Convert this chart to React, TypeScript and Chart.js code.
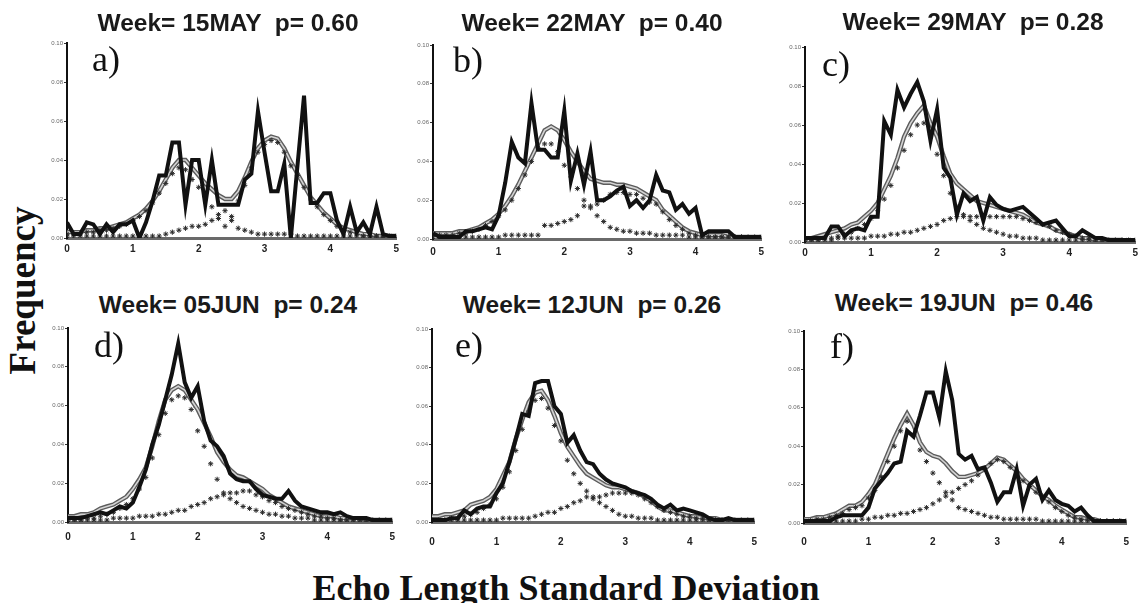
import React, { useEffect, useRef } from "react";
import { Chart, registerables } from "chart.js";
Chart.register(...registerables);

// x positions of the bins (Echo Length Standard Deviation)
const xValues = [
  0, 0.1, 0.2, 0.3, 0.4, 0.5, 0.6, 0.7, 0.8, 0.9,
  1, 1.1, 1.2, 1.3, 1.4, 1.5, 1.6, 1.7, 1.8, 1.9,
  2, 2.1, 2.2, 2.3, 2.4, 2.5, 2.6, 2.7, 2.8, 2.9,
  3, 3.1, 3.2, 3.3, 3.4, 3.5, 3.6, 3.7, 3.8, 3.9,
  4, 4.1, 4.2, 4.3, 4.4, 4.5, 4.6, 4.7, 4.8, 4.9,
  5,
];

const xTickLabels = ["0", "1", "2", "3", "4", "5"];
const yTickLabels = ["0.00", "0.02", "0.04", "0.06", "0.08", "0.10"];

const panelTitles = [
  "Week= 15MAY  p= 0.60",
  "Week= 22MAY  p= 0.40",
  "Week= 29MAY  p= 0.28",
  "Week= 05JUN  p= 0.24",
  "Week= 12JUN  p= 0.26",
  "Week= 19JUN  p= 0.46",
];
const panelLetters = ["a)", "b)", "c)", "d)", "e)", "f)"];

// All frequencies below are in thousandths (0.001)

// ---- 15MAY ----
const obs15May = [
  8, 2, 2, 8, 7, 2, 7, 3, 7, 7,
  9, 0, 8, 19, 32, 32, 49, 49, 17, 40,
  40, 17, 40, 17, 17, 17, 17, 30, 33, 65,
  44, 24, 24, 38, 0, 37, 73, 18, 18, 23,
  23, 9, 2, 16, 3, 8, 2, 16, 2, 1,
  1,
];
const fit15May = [
  3, 3, 3, 4, 4, 5, 5, 6, 7, 8,
  10, 12, 15, 19, 24, 30, 36, 40, 40, 36,
  32, 28, 25, 22, 20, 20, 24, 31, 39, 46,
  50, 52, 51, 46, 39, 33, 27, 21, 17, 13,
  10, 7, 5, 4, 3, 2, 2, 1, 1, 1,
  1,
];
const dotsA15May = [
  1, 1, 1, 1, 1, 1, 1, 1, 1, 1,
  1, 1, 1, 1, 1, 2, 3, 4, 5, 6,
  6, 7, 9, 12, 14, 9, 5, 4, 3, 2,
  2, 2, 2, 2, 2, 1, 1, 1, 1, 1,
  1, 1, 1, 1, 1, 1, 1, 1, 1, 1,
  1,
];
const dotsB15May = [
  2, 2, 2, 3, 3, 4, 4, 5, 6, 7,
  9, 11, 14, 18, 23, 28, 33, 36, 35, 30,
  26, 21, 16, 10, 6, 11, 19, 27, 36, 44,
  48, 50, 49, 44, 37, 32, 26, 20, 16, 12,
  9, 6, 4, 3, 2, 1, 1, 1, 0, 0,
  0,
];

// ---- 22MAY ----
const obs22May = [
  3, 1, 1, 1, 1, 4, 4, 5, 6, 5,
  12, 29, 50, 42, 39, 70, 46, 46, 42, 42,
  66, 30, 44, 28, 45, 20, 20, 22, 25, 27,
  17, 20, 16, 20, 33, 25, 24, 15, 18, 13,
  16, 2, 4, 4, 4, 4, 1, 1, 1, 1,
  1,
];
const fit22May = [
  3, 3, 3, 3, 4, 4, 5, 6, 8, 10,
  13, 17, 22, 28, 35, 42, 49, 56, 58, 56,
  51, 45, 40, 35, 31, 30, 29, 29, 28, 28,
  27, 26, 24, 22, 20, 15, 12, 9, 6, 4,
  3, 2, 2, 2, 2, 1, 1, 1, 1, 1,
  1,
];
const dotsA22May = [
  1, 1, 1, 1, 1, 1, 1, 1, 1, 1,
  1, 2, 2, 2, 2, 2, 2, 7, 7, 8,
  9, 10, 12, 17, 16, 12, 9, 6, 5, 4,
  4, 3, 3, 3, 2, 2, 2, 2, 2, 1,
  1, 1, 1, 1, 1, 1, 1, 1, 1, 1,
  1,
];
const dotsB22May = [
  2, 2, 2, 2, 3, 3, 4, 5, 7, 9,
  12, 15, 20, 26, 33, 40, 47, 49, 49, 45,
  38, 32, 26, 20, 17, 18, 20, 23, 24, 24,
  23, 23, 21, 19, 18, 14, 10, 7, 5, 3,
  2, 1, 1, 1, 1, 1, 1, 1, 0, 0,
  0,
];

// ---- 29MAY ----
const obs29May = [
  2, 2, 2, 2, 8, 8, 3, 6, 7, 6,
  13, 13, 62, 55, 78, 69, 76, 82, 72, 52,
  68, 38, 33, 14, 25, 21, 23, 11, 23, 19,
  17, 16, 17, 18, 15, 12, 9, 10, 11, 7,
  3, 3, 6, 4, 2, 2, 1, 1, 1, 1,
  1,
];
const fit29May = [
  2, 2, 3, 4, 5, 6, 7, 9, 10, 13,
  16, 20, 27, 34, 43, 54, 61, 66, 70, 61,
  54, 44, 35, 30, 27, 24, 21, 20, 19, 18,
  17, 16, 15, 14, 12, 10, 9, 8, 6, 5,
  4, 3, 2, 2, 1, 1, 1, 1, 1, 0,
  0,
];
const dotsA29May = [
  1, 1, 1, 2, 2, 3, 4, 5, 7, 9,
  12, 16, 22, 29, 38, 47, 55, 60, 61, 55,
  45, 34, 25, 18, 14, 11, 9, 7, 6, 5,
  4, 3, 3, 2, 2, 2, 1, 1, 1, 1,
  1, 1, 1, 1, 0, 0, 0, 0, 0, 0,
  0,
];
const dotsB29May = [
  1, 1, 1, 1, 1, 2, 2, 2, 2, 2,
  3, 3, 3, 4, 4, 5, 5, 6, 7, 8,
  9, 11, 12, 13, 13, 13, 13, 13, 13, 13,
  13, 13, 13, 12, 11, 10, 9, 8, 6, 5,
  4, 3, 2, 2, 1, 1, 1, 1, 1, 1,
  1,
];

// ---- 05JUN ----
const obs05Jun = [
  2, 2, 2, 3, 4, 5, 4, 6, 8, 7,
  10, 18, 27, 40, 50, 63, 76, 92, 72, 64,
  70, 52, 42, 39, 34, 25, 22, 21, 21, 17,
  14, 13, 12, 12, 16, 11, 8, 7, 6, 5,
  5, 4, 5, 3, 2, 2, 2, 1, 1, 1,
  1,
];
const fit05Jun = [
  3, 3, 4, 4, 5, 7, 8, 9, 11, 13,
  17, 22, 28, 39, 52, 63, 68, 70, 68, 63,
  58, 51, 44, 36, 31, 27, 24, 23, 21, 19,
  17, 14, 12, 10, 8, 7, 6, 5, 4, 3,
  3, 3, 2, 2, 2, 2, 1, 1, 1, 1,
  1,
];
const dotsA05Jun = [
  1, 1, 1, 2, 2, 3, 4, 5, 7, 9,
  12, 17, 23, 33, 45, 56, 63, 65, 64, 58,
  47, 39, 30, 22, 15, 12, 10, 8, 7, 6,
  5, 4, 4, 3, 3, 2, 2, 2, 1, 1,
  1, 1, 1, 1, 1, 1, 0, 0, 0, 0,
  0,
];
const dotsB05Jun = [
  1, 1, 1, 1, 1, 1, 1, 2, 2, 2,
  2, 3, 3, 3, 4, 4, 5, 6, 6, 8,
  9, 10, 12, 13, 14, 15, 15, 16, 16, 14,
  13, 11, 10, 8, 7, 6, 5, 4, 3, 3,
  2, 2, 1, 1, 1, 1, 1, 1, 1, 1,
  1,
];

// ---- 12JUN ----
const obs12Jun = [
  1, 1, 1, 2, 2, 6, 4, 7, 8, 8,
  15, 20, 31, 43, 56, 55, 72, 73, 73, 60,
  56, 41, 45, 37, 31, 30, 25, 22, 20, 19,
  18, 16, 15, 14, 12, 9, 7, 9, 6, 7,
  6, 5, 4, 2, 1, 1, 2, 1, 1, 1,
  1,
];
const fit12Jun = [
  3, 3, 4, 4, 5, 6, 9, 10, 11, 13,
  17, 24, 31, 43, 53, 62, 67, 68, 63, 55,
  46, 39, 34, 29, 25, 23, 21, 19, 18, 18,
  17, 16, 15, 13, 11, 8, 6, 6, 5, 4,
  3, 3, 2, 2, 2, 1, 1, 1, 1, 1,
  1,
];
const dotsA12Jun = [
  1, 1, 1, 2, 2, 3, 4, 5, 7, 9,
  12, 18, 26, 37, 48, 57, 63, 64, 59, 50,
  42, 32, 25, 20, 16, 12, 10, 8, 6, 4,
  3, 3, 2, 2, 2, 1, 1, 1, 1, 1,
  1, 1, 1, 1, 1, 1, 1, 0, 0, 0,
  0,
];
const dotsB12Jun = [
  0, 0, 1, 1, 1, 1, 1, 1, 1, 1,
  1, 2, 2, 2, 2, 2, 3, 4, 5, 5,
  7, 8, 10, 11, 13, 13, 13, 14, 15, 15,
  15, 15, 14, 12, 10, 8, 6, 5, 4, 3,
  3, 2, 2, 1, 1, 1, 1, 1, 1, 1,
  1,
];

// ---- 19JUN ----
const obs19Jun = [
  1, 1, 1, 1, 1, 3, 4, 4, 4, 4,
  8, 18, 22, 26, 31, 32, 48, 45, 56, 68,
  68, 55, 79, 64, 36, 33, 35, 28, 29, 21,
  11, 16, 16, 28, 9, 20, 23, 12, 17, 12,
  10, 9, 6, 8, 4, 1, 1, 1, 1, 1,
  1,
];
const fit19Jun = [
  2, 2, 3, 3, 4, 5, 7, 9, 9, 11,
  15, 20, 28, 36, 44, 51, 57, 51, 42, 37,
  35, 34, 31, 27, 24, 24, 25, 26, 28, 31,
  34, 33, 30, 27, 23, 20, 17, 14, 12, 9,
  7, 5, 3, 3, 2, 2, 1, 1, 1, 1,
  1,
];
const dotsA19Jun = [
  1, 1, 2, 2, 3, 4, 5, 7, 8, 9,
  13, 17, 24, 32, 40, 48, 53, 46, 38, 32,
  26, 21, 16, 12, 8, 7, 6, 5, 4, 3,
  3, 2, 2, 2, 2, 2, 2, 1, 1, 1,
  1, 1, 1, 1, 1, 1, 1, 1, 1, 1,
  1,
];
const dotsB19Jun = [
  1, 1, 1, 1, 1, 1, 1, 1, 1, 2,
  2, 3, 3, 4, 4, 5, 5, 6, 7, 8,
  10, 12, 14, 16, 18, 20, 22, 25, 28, 31,
  33, 32, 29, 26, 22, 19, 16, 13, 11, 8,
  6, 4, 3, 2, 2, 1, 1, 1, 1, 1,
  1,
];

type PanelSpec = { obs: number[]; fit: number[]; d1: number[]; d2: number[] };
const panels: PanelSpec[] = [
  { obs: obs15May, fit: fit15May, d1: dotsA15May, d2: dotsB15May },
  { obs: obs22May, fit: fit22May, d1: dotsA22May, d2: dotsB22May },
  { obs: obs29May, fit: fit29May, d1: dotsA29May, d2: dotsB29May },
  { obs: obs05Jun, fit: fit05Jun, d1: dotsA05Jun, d2: dotsB05Jun },
  { obs: obs12Jun, fit: fit12Jun, d1: dotsA12Jun, d2: dotsB12Jun },
  { obs: obs19Jun, fit: fit19Jun, d1: dotsA19Jun, d2: dotsB19Jun },
];

// layout: plot area L..R, T(0.10)..B(0.00), label padding, title centre, letter position
type Frame = { L: number; R: number; T: number; B: number; pad: number; tx: number; ty: number; lx: number; ly: number };
const frames: Frame[] = [
  { L: 67, R: 398, T: 43, B: 238, pad: 5, tx: 228, ty: 23, lx: 92, ly: 41 },
  { L: 433, R: 765, T: 45, B: 239, pad: 7, tx: 592, ty: 23, lx: 453, ly: 42 },
  { L: 805, R: 1137, T: 47, B: 242, pad: 5, tx: 973, ty: 22, lx: 822, ly: 46 },
  { L: 68, R: 398, T: 328, B: 522, pad: 9, tx: 228, ty: 305, lx: 94, ly: 327 },
  { L: 432, R: 765, T: 329, B: 522, pad: 14, tx: 592, ty: 305, lx: 455, ly: 327 },
  { L: 804, R: 1136, T: 331, B: 523, pad: 13, tx: 964, ty: 303, lx: 830, ly: 328 },
];

const YW = 22;
const PT = 6;
const PR = 6;

function toPoints(vals: number[]) {
  return xValues.map((x, i) => ({ x, y: vals[i] / 1000 }));
}

function Panel({ spec, frame }: { spec: PanelSpec; frame: Frame }) {
  const ref = useRef<HTMLCanvasElement>(null);
  const w = YW + (frame.R - frame.L) + PR;
  const xh = frame.pad + 14;
  const h = PT + (frame.B - frame.T) + xh;

  useEffect(() => {
    const dotStyle = {
      showLine: false,
      pointStyle: "star" as const,
      pointRadius: 2.6,
      pointBorderWidth: 1,
      pointBorderColor: "#2a2a2a",
      pointBackgroundColor: "#2a2a2a",
      borderColor: "#2a2a2a",
      order: 1,
    };
    const chart = new Chart(ref.current as HTMLCanvasElement, {
      type: "line",
      data: {
        datasets: [
          { data: toPoints(spec.obs), borderColor: "#111", borderWidth: 4, pointRadius: 0, order: 0 } as any,
          { data: toPoints(spec.d1), ...dotStyle } as any,
          { data: toPoints(spec.d2), ...dotStyle } as any,
          { data: toPoints(spec.fit), borderColor: "#d4d4d4", borderWidth: 1.6, pointRadius: 0, order: 2 } as any,
          { data: toPoints(spec.fit), borderColor: "#5c5c5c", borderWidth: 4.4, pointRadius: 0, order: 3 } as any,
        ],
      },
      options: {
        responsive: false,
        animation: false,
        devicePixelRatio: 1,
        events: [],
        layout: { padding: { left: 0, right: PR, top: PT, bottom: 0 } },
        plugins: {
          legend: { display: false },
          tooltip: { enabled: false },
          title: { display: false },
        },
        scales: {
          x: {
            type: "linear",
            min: 0,
            max: 5,
            afterFit: (s: any) => {
              s.height = xh;
            },
            grid: { display: true, drawOnChartArea: false, drawTicks: false },
            border: { display: true, color: "#6a6a6a", width: 3 },
            ticks: {
              stepSize: 1,
              padding: frame.pad,
              autoSkip: false,
              maxRotation: 0,
              color: "#222",
              font: { family: "'Liberation Sans', Arial, sans-serif", size: 10, weight: "bold" },
              callback: (_v: any, i: number) => xTickLabels[i] ?? "",
            },
          },
          y: {
            type: "linear",
            min: 0,
            max: 0.1,
            afterFit: (s: any) => {
              s.width = YW;
            },
            grid: { display: true, drawOnChartArea: false, drawTicks: true, tickLength: 3, color: "#333" },
            border: { display: true, color: "#111", width: 2 },
            ticks: {
              stepSize: 0.02,
              padding: 1,
              autoSkip: false,
              color: "#666",
              font: { family: "'Liberation Sans', Arial, sans-serif", size: 6 },
              callback: (_v: any, i: number) => yTickLabels[i] ?? "",
            },
          },
        },
      } as any,
    });
    return () => chart.destroy();
  }, []);

  return (
    <canvas
      ref={ref}
      width={w}
      height={h}
      style={{ position: "absolute", left: frame.L - YW, top: frame.T - PT, width: w, height: h }}
    />
  );
}

export default function App() {
  return (
    <div
      style={{
        position: "absolute",
        left: 0,
        top: 0,
        width: 1140,
        height: 603,
        overflow: "hidden",
        background: "#fff",
      }}
    >
      {panels.map((p, i) => (
        <Panel key={"p" + i} spec={p} frame={frames[i]} />
      ))}
      {frames.map((f, i) => (
        <div
          key={"t" + i}
          style={{
            position: "absolute",
            left: f.tx - 200,
            top: f.ty - 15,
            width: 400,
            height: 30,
            lineHeight: "30px",
            textAlign: "center",
            whiteSpace: "pre",
            fontFamily: "'Liberation Sans', Arial, sans-serif",
            fontWeight: "bold",
            fontSize: 24.5,
            color: "#1a1a1a",
          }}
        >
          {panelTitles[i]}
        </div>
      ))}
      {frames.map((f, i) => (
        <div
          key={"l" + i}
          style={{
            position: "absolute",
            left: f.lx,
            top: f.ly,
            height: 36,
            lineHeight: "36px",
            fontSize: 36,
            fontFamily: "'Liberation Serif', 'Times New Roman', serif",
            color: "#111",
            whiteSpace: "pre",
          }}
        >
          {panelLetters[i]}
        </div>
      ))}
      <div
        style={{
          position: "absolute",
          left: 21.5 - 100,
          top: 290 - 18.5,
          width: 200,
          height: 37,
          lineHeight: "37px",
          textAlign: "center",
          fontSize: 37,
          fontWeight: "bold",
          fontFamily: "'Liberation Serif', 'Times New Roman', serif",
          color: "#111",
          transform: "rotate(-90deg)",
          whiteSpace: "nowrap",
        }}
      >
        Frequency
      </div>
      <div
        style={{
          position: "absolute",
          left: 566 - 300,
          top: 570,
          width: 600,
          height: 36,
          lineHeight: "36px",
          textAlign: "center",
          fontSize: 36,
          fontWeight: "bold",
          fontFamily: "'Liberation Serif', 'Times New Roman', serif",
          color: "#111",
          whiteSpace: "nowrap",
        }}
      >
        Echo Length Standard Deviation
      </div>
    </div>
  );
}
